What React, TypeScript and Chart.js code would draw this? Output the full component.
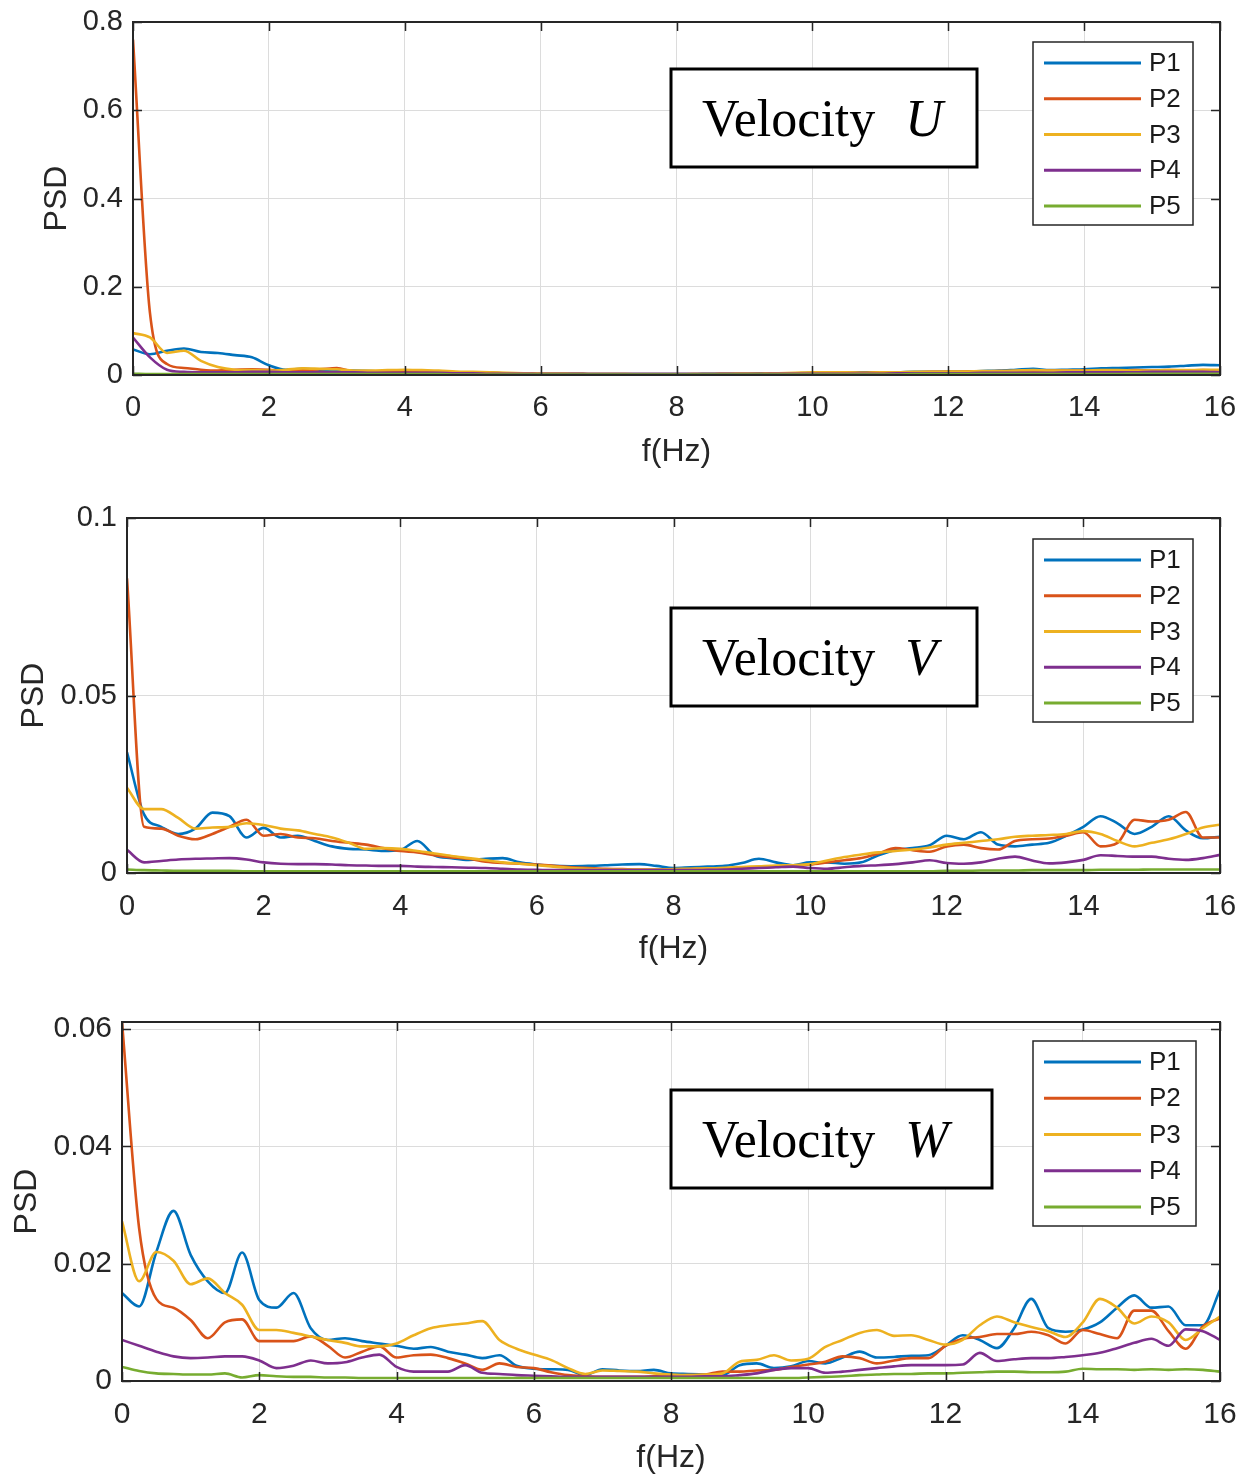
import React, { useEffect, useRef } from 'react';
import { Chart, registerables } from 'chart.js';

Chart.register(...registerables);

// ---------- data ----------
const FREQ = [
  0, 0.25, 0.5, 0.75, 1, 1.25, 1.5, 1.75, 2, 2.25, 2.5, 2.75, 3, 3.25, 3.5, 3.75,
  4, 4.25, 4.5, 4.75, 5, 5.25, 5.5, 5.75, 6, 6.25, 6.5, 6.75, 7, 7.25, 7.5, 7.75,
  8, 8.25, 8.5, 8.75, 9, 9.25, 9.5, 9.75, 10, 10.25, 10.5, 10.75, 11, 11.25, 11.5, 11.75,
  12, 12.25, 12.5, 12.75, 13, 13.25, 13.5, 13.75, 14, 14.25, 14.5, 14.75, 15, 15.25, 15.5, 15.75,
  16,
];

const SERIES_NAMES = ['P1', 'P2', 'P3', 'P4', 'P5'];
const COLORS = ['#0072BD', '#D95319', '#EDB120', '#7E2F8E', '#77AC30'];

// Velocity U
const U_P1 = [
  0.058, 0.047, 0.055, 0.060, 0.052, 0.050, 0.045, 0.040,
  0.022, 0.012, 0.014, 0.012, 0.011, 0.010, 0.009, 0.008,
  0.008, 0.007, 0.007, 0.006, 0.006, 0.005, 0.004, 0.004,
  0.003, 0.003, 0.003, 0.002, 0.002, 0.002, 0.002, 0.002,
  0.002, 0.002, 0.003, 0.003, 0.003, 0.004, 0.004, 0.004,
  0.005, 0.005, 0.005, 0.006, 0.006, 0.006, 0.007, 0.007,
  0.008, 0.008, 0.009, 0.010, 0.012, 0.014, 0.011, 0.012,
  0.013, 0.015, 0.016, 0.017, 0.018, 0.019, 0.021, 0.023,
  0.022,
];
const U_P2 = [
  0.760, 0.140, 0.025, 0.016, 0.012, 0.010, 0.012, 0.013,
  0.012, 0.009, 0.011, 0.013, 0.016, 0.008, 0.008, 0.008,
  0.008, 0.007, 0.007, 0.006, 0.005, 0.005, 0.004, 0.004,
  0.003, 0.003, 0.003, 0.002, 0.002, 0.002, 0.002, 0.002,
  0.002, 0.002, 0.002, 0.003, 0.003, 0.003, 0.004, 0.004,
  0.004, 0.005, 0.005, 0.005, 0.006, 0.006, 0.006, 0.007,
  0.007, 0.008, 0.008, 0.009, 0.009, 0.009, 0.010, 0.010,
  0.010, 0.009, 0.010, 0.011, 0.010, 0.011, 0.010, 0.011,
  0.010,
];
const U_P3 = [
  0.095, 0.085, 0.050, 0.055, 0.032, 0.018, 0.012, 0.011,
  0.010, 0.012, 0.015, 0.014, 0.013, 0.010, 0.010, 0.011,
  0.012, 0.011, 0.010, 0.008, 0.007, 0.006, 0.005, 0.004,
  0.003, 0.003, 0.002, 0.002, 0.002, 0.002, 0.001, 0.001,
  0.001, 0.002, 0.002, 0.002, 0.003, 0.003, 0.004, 0.005,
  0.006, 0.006, 0.006, 0.005, 0.006, 0.006, 0.007, 0.007,
  0.008, 0.008, 0.009, 0.009, 0.010, 0.011, 0.010, 0.010,
  0.010, 0.011, 0.011, 0.010, 0.010, 0.011, 0.011, 0.012,
  0.012,
];
const U_P4 = [
  0.085, 0.040, 0.012, 0.007, 0.006, 0.006, 0.006, 0.007,
  0.007, 0.006, 0.006, 0.006, 0.006, 0.006, 0.005, 0.005,
  0.005, 0.005, 0.005, 0.004, 0.004, 0.003, 0.003, 0.003,
  0.002, 0.002, 0.002, 0.002, 0.002, 0.002, 0.002, 0.002,
  0.002, 0.002, 0.002, 0.002, 0.002, 0.002, 0.003, 0.003,
  0.003, 0.003, 0.003, 0.003, 0.003, 0.004, 0.004, 0.004,
  0.004, 0.004, 0.005, 0.005, 0.005, 0.005, 0.005, 0.006,
  0.006, 0.006, 0.006, 0.006, 0.007, 0.007, 0.007, 0.007,
  0.006,
];
const U_P5 = [
  0.003, 0.002, 0.002, 0.002, 0.002, 0.002, 0.002, 0.002,
  0.002, 0.002, 0.002, 0.002, 0.002, 0.002, 0.002, 0.002,
  0.002, 0.002, 0.002, 0.001, 0.001, 0.001, 0.001, 0.001,
  0.001, 0.001, 0.001, 0.001, 0.001, 0.001, 0.001, 0.001,
  0.001, 0.001, 0.001, 0.001, 0.001, 0.001, 0.001, 0.001,
  0.001, 0.001, 0.001, 0.001, 0.001, 0.001, 0.002, 0.002,
  0.002, 0.002, 0.002, 0.002, 0.002, 0.002, 0.002, 0.002,
  0.002, 0.002, 0.002, 0.003, 0.003, 0.003, 0.003, 0.003,
  0.003,
];

// Velocity V
const V_P1 = [
  0.0340, 0.0165, 0.0130, 0.0110, 0.0125, 0.0170, 0.0160, 0.0100,
  0.0127, 0.0100, 0.0105, 0.0090, 0.0075, 0.0068, 0.0066, 0.0062,
  0.0065, 0.0090, 0.0050, 0.0042, 0.0037, 0.0040, 0.0042, 0.0030,
  0.0024, 0.0020, 0.0019, 0.0020, 0.0022, 0.0024, 0.0025, 0.0020,
  0.0014, 0.0016, 0.0018, 0.0020, 0.0028, 0.0040, 0.0030, 0.0022,
  0.0030, 0.0030, 0.0026, 0.0030, 0.0050, 0.0065, 0.0070, 0.0078,
  0.0105, 0.0095, 0.0115, 0.0080, 0.0075, 0.0080, 0.0085, 0.0105,
  0.0130, 0.0160, 0.0140, 0.0110, 0.0130, 0.0160, 0.0120, 0.0098,
  0.0102,
];
const V_P2 = [
  0.0830, 0.0130, 0.0125, 0.0105, 0.0095, 0.0110, 0.0130, 0.0150,
  0.0105, 0.0110, 0.0100, 0.0098, 0.0090, 0.0085, 0.0080, 0.0070,
  0.0062, 0.0058, 0.0050, 0.0044, 0.0040, 0.0032, 0.0028, 0.0026,
  0.0024, 0.0020, 0.0016, 0.0014, 0.0012, 0.0011, 0.0010, 0.0010,
  0.0010, 0.0011, 0.0012, 0.0013, 0.0015, 0.0016, 0.0018, 0.0020,
  0.0024, 0.0030, 0.0036, 0.0042, 0.0055, 0.0070, 0.0064, 0.0060,
  0.0075, 0.0080, 0.0070, 0.0066, 0.0090, 0.0095, 0.0097, 0.0105,
  0.0115, 0.0075, 0.0085, 0.0150, 0.0145, 0.0150, 0.0172, 0.0100,
  0.0100,
];
const V_P3 = [
  0.0240, 0.0180, 0.0180, 0.0155, 0.0125, 0.0128, 0.0130, 0.0140,
  0.0135, 0.0125, 0.0120, 0.0110, 0.0100, 0.0085, 0.0068, 0.0070,
  0.0068, 0.0062, 0.0055, 0.0048, 0.0042, 0.0036, 0.0030, 0.0026,
  0.0022, 0.0018, 0.0014, 0.0012, 0.0010, 0.0010, 0.0010, 0.0010,
  0.0011, 0.0012, 0.0013, 0.0015, 0.0017, 0.0019, 0.0021, 0.0022,
  0.0025, 0.0035, 0.0045, 0.0052, 0.0058, 0.0062, 0.0066, 0.0072,
  0.0080, 0.0085, 0.0090, 0.0095, 0.0102, 0.0105, 0.0107, 0.0110,
  0.0118, 0.0110, 0.0090, 0.0075, 0.0085, 0.0095, 0.0110, 0.0128,
  0.0136,
];
const V_P4 = [
  0.0065, 0.0030, 0.0034, 0.0038, 0.0040, 0.0041, 0.0042, 0.0038,
  0.0030, 0.0026, 0.0025, 0.0025, 0.0024, 0.0022, 0.0021, 0.0020,
  0.0020, 0.0018, 0.0017, 0.0016, 0.0015, 0.0014, 0.0012, 0.0010,
  0.0009, 0.0008, 0.0008, 0.0008, 0.0008, 0.0008, 0.0008, 0.0008,
  0.0008, 0.0008, 0.0009, 0.0010, 0.0012, 0.0014, 0.0016, 0.0018,
  0.0014, 0.0012, 0.0016, 0.0020, 0.0022, 0.0025, 0.0030, 0.0036,
  0.0028, 0.0026, 0.0030, 0.0040, 0.0046, 0.0035, 0.0027, 0.0030,
  0.0037, 0.0050, 0.0048, 0.0046, 0.0046, 0.0040, 0.0037, 0.0042,
  0.0051,
];
const V_P5 = [
  0.0010, 0.0008, 0.0007, 0.0006, 0.0006, 0.0006, 0.0006, 0.0005,
  0.0005, 0.0005, 0.0005, 0.0005, 0.0005, 0.0005, 0.0005, 0.0005,
  0.0005, 0.0005, 0.0005, 0.0005, 0.0005, 0.0005, 0.0005, 0.0005,
  0.0005, 0.0005, 0.0005, 0.0005, 0.0005, 0.0005, 0.0005, 0.0005,
  0.0005, 0.0005, 0.0005, 0.0005, 0.0005, 0.0005, 0.0005, 0.0005,
  0.0005, 0.0005, 0.0005, 0.0005, 0.0005, 0.0005, 0.0005, 0.0005,
  0.0006, 0.0006, 0.0007, 0.0007, 0.0007, 0.0008, 0.0008, 0.0008,
  0.0008, 0.0009, 0.0009, 0.0009, 0.0010, 0.0010, 0.0010, 0.0010,
  0.0010,
];

// Velocity W
const W_P1 = [
  0.0150, 0.0127, 0.0220, 0.0290, 0.0215, 0.0170, 0.0150, 0.0219,
  0.0138, 0.0125, 0.0150, 0.0090, 0.0070, 0.0073, 0.0068, 0.0064,
  0.0060, 0.0055, 0.0058, 0.0050, 0.0045, 0.0039, 0.0044, 0.0026,
  0.0021, 0.0020, 0.0019, 0.0010, 0.0020, 0.0018, 0.0017, 0.0019,
  0.0013, 0.0012, 0.0011, 0.0010, 0.0027, 0.0030, 0.0022, 0.0025,
  0.0034, 0.0030, 0.0040, 0.0050, 0.0040, 0.0041, 0.0043, 0.0044,
  0.0060, 0.0078, 0.0070, 0.0056, 0.0090, 0.0140, 0.0090, 0.0084,
  0.0088, 0.0100, 0.0125, 0.0146, 0.0125, 0.0127, 0.0095, 0.0095,
  0.0155,
];
const W_P2 = [
  0.0612, 0.0260, 0.0140, 0.0125, 0.0104, 0.0073, 0.0100, 0.0105,
  0.0068, 0.0068, 0.0068, 0.0076, 0.0060, 0.0040, 0.0050, 0.0059,
  0.0040, 0.0044, 0.0045, 0.0039, 0.0030, 0.0019, 0.0030, 0.0024,
  0.0022, 0.0015, 0.0010, 0.0008, 0.0007, 0.0007, 0.0007, 0.0008,
  0.0009, 0.0010, 0.0011, 0.0016, 0.0016, 0.0018, 0.0019, 0.0024,
  0.0028, 0.0033, 0.0042, 0.0039, 0.0030, 0.0035, 0.0039, 0.0039,
  0.0060, 0.0072, 0.0075, 0.0080, 0.0080, 0.0084, 0.0078, 0.0064,
  0.0087, 0.0080, 0.0073, 0.0120, 0.0120, 0.0085, 0.0055, 0.0093,
  0.0107,
];
const W_P3 = [
  0.0272, 0.0170, 0.0220, 0.0205, 0.0165, 0.0175, 0.0150, 0.0130,
  0.0087, 0.0087, 0.0082, 0.0076, 0.0070, 0.0065, 0.0059, 0.0059,
  0.0064, 0.0078, 0.0090, 0.0095, 0.0098, 0.0102, 0.0070, 0.0055,
  0.0045, 0.0036, 0.0022, 0.0012, 0.0018, 0.0017, 0.0016, 0.0013,
  0.0011, 0.0010, 0.0011, 0.0013, 0.0033, 0.0036, 0.0044, 0.0035,
  0.0038, 0.0058, 0.0070, 0.0082, 0.0087, 0.0077, 0.0078, 0.0070,
  0.0062, 0.0070, 0.0095, 0.0110, 0.0100, 0.0092, 0.0085, 0.0075,
  0.0100, 0.0140, 0.0125, 0.0098, 0.0110, 0.0100, 0.0070, 0.0090,
  0.0110,
];
const W_P4 = [
  0.0070, 0.0060, 0.0050, 0.0042, 0.0039, 0.0040, 0.0042, 0.0042,
  0.0035, 0.0022, 0.0026, 0.0035, 0.0030, 0.0032, 0.0040, 0.0045,
  0.0024, 0.0016, 0.0016, 0.0016, 0.0027, 0.0014, 0.0012, 0.0010,
  0.0009, 0.0008, 0.0007, 0.0007, 0.0007, 0.0007, 0.0007, 0.0007,
  0.0007, 0.0007, 0.0008, 0.0008, 0.0010, 0.0013, 0.0019, 0.0022,
  0.0022, 0.0014, 0.0016, 0.0019, 0.0022, 0.0025, 0.0027, 0.0027,
  0.0027, 0.0028, 0.0048, 0.0034, 0.0037, 0.0039, 0.0039, 0.0041,
  0.0044, 0.0048, 0.0056, 0.0065, 0.0072, 0.0060, 0.0088, 0.0085,
  0.0070,
];
const W_P5 = [
  0.0024, 0.0017, 0.0013, 0.0012, 0.0011, 0.0011, 0.0013, 0.0006,
  0.0010, 0.0008, 0.0007, 0.0007, 0.0006, 0.0006, 0.0005, 0.0005,
  0.0005, 0.0005, 0.0005, 0.0005, 0.0005, 0.0005, 0.0005, 0.0005,
  0.0005, 0.0005, 0.0005, 0.0005, 0.0005, 0.0005, 0.0005, 0.0005,
  0.0005, 0.0005, 0.0005, 0.0005, 0.0005, 0.0005, 0.0005, 0.0005,
  0.0006, 0.0007, 0.0008, 0.0010, 0.0011, 0.0012, 0.0012, 0.0013,
  0.0013, 0.0014, 0.0015, 0.0016, 0.0016, 0.0015, 0.0015, 0.0016,
  0.0021, 0.0020, 0.0020, 0.0019, 0.0020, 0.0019, 0.0020, 0.0019,
  0.0016,
];

// ---------- layout / style ----------
const TEXT = '#262626';
const GRID = '#dcdcdc';
const SANS = '"Liberation Sans", Arial, Helvetica, sans-serif';
const SERIF = '"Liberation Serif", "Times New Roman", serif';

type PanelCfg = {
  top: number; height: number; plotTop: number; plotLeft: number; plotRight: number;
  xAxisH: number; yMax: number; yStep: number; tickFont: number; titleFont: number;
  psdPad: number; xTickPad: number; xTitlePad: number; letter: string;
  box: { x: number; y: number; w: number; h: number };
  legend: { x: number; y: number; w: number; h: number };
  series: number[][];
};

const PANELS: PanelCfg[] = [
  {
    top: 0, height: 490, plotTop: 22, plotLeft: 133, plotRight: 1220, xAxisH: 115,
    yMax: 0.8, yStep: 0.2, tickFont: 29, titleFont: 32, psdPad: 38, xTickPad: 16, xTitlePad: 19,
    letter: 'U', box: { x: 671, y: 69, w: 306, h: 98 }, legend: { x: 1033, y: 42, w: 160, h: 183 },
    series: [U_P1, U_P2, U_P3, U_P4, U_P5],
  },
  {
    top: 490, height: 490, plotTop: 28, plotLeft: 127, plotRight: 1220, xAxisH: 107,
    yMax: 0.1, yStep: 0.05, tickFont: 29, titleFont: 32, psdPad: 15, xTickPad: 17, xTitlePad: 12,
    letter: 'V', box: { x: 671, y: 118, w: 306, h: 98 }, legend: { x: 1033, y: 49, w: 160, h: 183 },
    series: [V_P1, V_P2, V_P3, V_P4, V_P5],
  },
  {
    top: 980, height: 497, plotTop: 42, plotLeft: 122, plotRight: 1220, xAxisH: 96,
    yMax: 0.0612, yStep: 0.02, tickFont: 30, titleFont: 32, psdPad: 8, xTickPad: 16, xTitlePad: 0,
    letter: 'W', box: { x: 671, y: 110, w: 321, h: 98 }, legend: { x: 1033, y: 61, w: 163, h: 185 },
    series: [W_P1, W_P2, W_P3, W_P4, W_P5],
  },
];

const fmt = (v: number | string) => String(parseFloat(Number(v).toFixed(4)));

const decorPlugin = {
  id: 'decor',
  afterDraw(chart: any, _args: any, opts: any) {
    const ctx: CanvasRenderingContext2D = chart.ctx;
    const a = chart.chartArea;
    const xs = chart.scales.x;
    const ys = chart.scales.y;
    ctx.save();
    // inward tick marks on all four sides
    const tl = 9;
    ctx.strokeStyle = TEXT;
    ctx.lineWidth = 1.5;
    ctx.beginPath();
    xs.ticks.forEach((t: any) => {
      const px = Math.round(xs.getPixelForValue(t.value)) + 0.5;
      ctx.moveTo(px, a.bottom); ctx.lineTo(px, a.bottom - tl);
      ctx.moveTo(px, a.top); ctx.lineTo(px, a.top + tl);
    });
    ys.ticks.forEach((t: any) => {
      const py = Math.round(ys.getPixelForValue(t.value)) + 0.5;
      ctx.moveTo(a.left, py); ctx.lineTo(a.left + tl, py);
      ctx.moveTo(a.right, py); ctx.lineTo(a.right - tl, py);
    });
    ctx.stroke();
    // axes frame
    ctx.lineWidth = 2;
    ctx.strokeRect(a.left, a.top, a.right - a.left, a.bottom - a.top);

    // legend
    const L = opts.legend;
    ctx.fillStyle = '#ffffff';
    ctx.fillRect(L.x, L.y, L.w, L.h);
    ctx.strokeStyle = TEXT;
    ctx.lineWidth = 1.5;
    ctx.strokeRect(L.x, L.y, L.w, L.h);
    const step = (L.h - 40) / 4;
    ctx.font = `26px ${SANS}`;
    ctx.textBaseline = 'middle';
    ctx.textAlign = 'left';
    chart.data.datasets.forEach((ds: any, i: number) => {
      const y = L.y + 21 + i * step;
      ctx.strokeStyle = ds.borderColor;
      ctx.lineWidth = 3;
      ctx.beginPath();
      ctx.moveTo(L.x + 11, y);
      ctx.lineTo(L.x + 108, y);
      ctx.stroke();
      ctx.fillStyle = '#1a1a1a';
      ctx.fillText(ds.label, L.x + 116, y + 1);
    });

    // velocity text box
    const B = opts.box;
    ctx.fillStyle = '#ffffff';
    ctx.fillRect(B.x, B.y, B.w, B.h);
    ctx.strokeStyle = '#000000';
    ctx.lineWidth = 3;
    ctx.strokeRect(B.x, B.y, B.w, B.h);
    ctx.fillStyle = '#000000';
    ctx.textBaseline = 'alphabetic';
    ctx.font = `52px ${SERIF}`;
    const base = B.y + B.h / 2 + 18;
    const word = 'Velocity';
    ctx.fillText(word, B.x + 31, base);
    const w = ctx.measureText(word).width;
    ctx.font = `italic 52px ${SERIF}`;
    ctx.fillText(opts.letter, B.x + 31 + w + 30, base);
    ctx.restore();
  },
};

function PanelChart({ p }: { p: PanelCfg }) {
  const ref = useRef<HTMLCanvasElement | null>(null);
  useEffect(() => {
    const canvas = ref.current;
    if (!canvas) return;
    const tickFont = { family: SANS, size: p.tickFont };
    const titleFont = { family: SANS, size: p.titleFont };
    const chart = new Chart(canvas, {
      type: 'line',
      data: {
        datasets: p.series.map((s, i) => ({
          label: SERIES_NAMES[i],
          data: FREQ.map((f, k) => ({ x: f, y: s[k] })),
          borderColor: COLORS[i],
          backgroundColor: COLORS[i],
          borderWidth: 2.6,
          pointRadius: 0,
          pointHoverRadius: 0,
          cubicInterpolationMode: 'monotone',
          fill: false,
          order: 5 - i,
        })),
      },
      options: {
        responsive: false,
        animation: false,
        devicePixelRatio: 1,
        events: [],
        layout: { padding: { top: p.plotTop, right: 1244 - p.plotRight, left: 0, bottom: 0 } },
        plugins: {
          legend: { display: false },
          tooltip: { enabled: false },
          decor: { legend: p.legend, box: p.box, letter: p.letter },
        } as any,
        scales: {
          x: {
            type: 'linear',
            min: 0,
            max: 16,
            ticks: {
              stepSize: 2, padding: p.xTickPad, font: tickFont, color: TEXT,
              maxRotation: 0, autoSkip: false, includeBounds: false,
              callback: (v: any) => fmt(v),
            },
            grid: { color: GRID, lineWidth: 1, drawTicks: false },
            border: { display: false },
            title: {
              display: true, text: 'f(Hz)', font: titleFont, color: TEXT,
              padding: { top: 0, bottom: p.xTitlePad },
            },
            afterFit: (s: any) => {
              s.height = p.xAxisH;
              s.paddingLeft = 0; s.paddingRight = 0; s.paddingTop = 0; s.paddingBottom = 0;
            },
          },
          y: {
            type: 'linear',
            min: 0,
            max: p.yMax,
            ticks: {
              stepSize: p.yStep, padding: 10, font: tickFont, color: TEXT,
              includeBounds: false, callback: (v: any) => fmt(v),
            },
            grid: { color: GRID, lineWidth: 1, drawTicks: false },
            border: { display: false },
            title: {
              display: true, text: 'PSD', font: titleFont, color: TEXT,
              padding: { top: p.psdPad, bottom: 0 },
            },
            afterFit: (s: any) => {
              s.width = p.plotLeft;
              s.paddingLeft = 0; s.paddingRight = 0; s.paddingTop = 0; s.paddingBottom = 0;
            },
          },
        },
      } as any,
      plugins: [decorPlugin],
    });
    return () => chart.destroy();
  }, [p]);
  return (
    <canvas
      ref={ref}
      width={1244}
      height={p.height}
      style={{ position: 'absolute', left: 0, top: p.top, width: 1244, height: p.height, display: 'block' }}
    />
  );
}

export default function App() {
  return (
    <div style={{ position: 'absolute', left: 0, top: 0, width: 1244, height: 1477, background: '#ffffff', overflow: 'hidden' }}>
      {PANELS.map((p, i) => (
        <PanelChart key={i} p={p} />
      ))}
    </div>
  );
}
